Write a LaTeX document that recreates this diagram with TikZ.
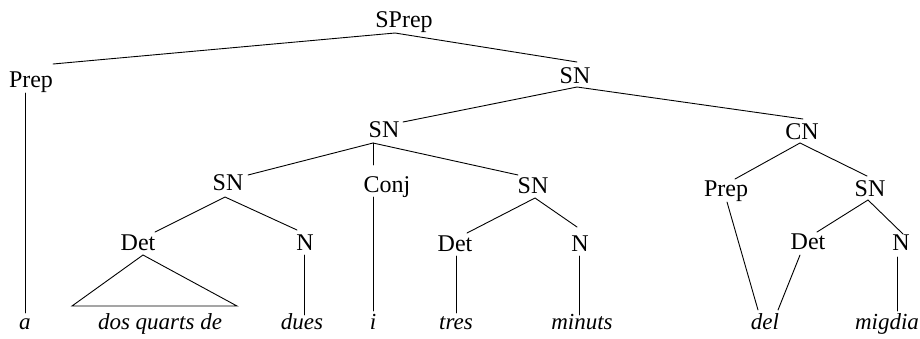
\documentclass[tikz,border=0pt]{standalone}
\usepackage{fontspec}
\setmainfont{Liberation Serif}
\begin{document}
\begin{tikzpicture}[x=1pt,y=-1pt,
  lab/.style={inner sep=0pt, anchor=base, font=\fontsize{24pt}{28pt}\selectfont},
  leaf/.style={lab, font=\fontsize{23pt}{27pt}\selectfont\itshape},
  branch/.style={line width=0.9pt, line cap=round}]
\useasboundingbox (0,0) rectangle (920,338);

% category labels
\node[lab] (sprep) at (404,27)  {SPrep};
\node[lab] (prepA) at (31,87)   {Prep};
\node[lab] (sn1)   at (575,83)  {SN};
\node[lab] (sn2)   at (384,137) {SN};
\node[lab] (cn)    at (802,139) {CN};
\node[lab] (snA)   at (228,190) {SN};
\node[lab] (conj)  at (387,192) {Conj};
\node[lab] (snB)   at (533,193) {SN};
\node[lab] (prepB) at (726,196) {Prep};
\node[lab] (snC)   at (870,196) {SN};
\node[lab] (detA)  at (138,250) {Det};
\node[lab] (nA)    at (305,250) {N};
\node[lab] (detB)  at (455,251) {Det};
\node[lab] (nB)    at (580,251) {N};
\node[lab] (detC)  at (808,249) {Det};
\node[lab] (nC)    at (901,250) {N};

% words
\node[leaf] (wa)      at (25,329)  {a};
\node[leaf] (wdos)    at (160,329) {dos quarts de};
\node[leaf] (wdues)   at (302,329) {dues};
\node[leaf] (wi)      at (373,329) {i};
\node[leaf] (wtres)   at (456,329) {tres};
\node[leaf] (wminuts) at (582,329) {minuts};
\node[leaf] (wdel)    at (765,329) {del};
\node[leaf] (wmigdia) at (887,329) {migdia};

% branches
\draw[branch] ([shift={(22,-23)}]prepA.base) -- ([shift={(-9,6)}]sprep.base) -- ([shift={(2,-21)}]sn1.base);
\draw[branch] ([shift={(-6,6)}]prepA.base) -- ([shift={(0,-16)}]wa.base);

\draw[branch] ([shift={(19,-15)}]sn2.base) -- ([shift={(2,4)}]sn1.base) -- ([shift={(1,-20)}]cn.base);

\draw[branch] ([shift={(20,-15)}]snA.base) -- ([shift={(-11,6)}]sn2.base) -- ([shift={(-15,-18)}]snB.base);
\draw[branch] ([shift={(-11,6)}]sn2.base) -- ([shift={(-14,-27)}]conj.base);
\draw[branch] ([shift={(-14,5)}]conj.base) -- ([shift={(0,-18)}]wi.base);

\draw[branch] ([shift={(17,-18)}]detA.base) -- ([shift={(-3,7)}]snA.base) -- ([shift={(-8,-20)}]nA.base);
\draw[branch] ([shift={(-88,-23)}]wdos.base) -- ([shift={(5,5)}]detA.base) -- ([shift={(77,-23)}]wdos.base) -- cycle;
\draw[branch] ([shift={(-1,5)}]nA.base) -- ([shift={(2,-14)}]wdues.base);

\draw[branch] ([shift={(12,-18)}]detB.base) -- ([shift={(2,5)}]snB.base) -- ([shift={(-3,-24)}]nB.base);
\draw[branch] ([shift={(1,5)}]detB.base) -- ([shift={(0,-16)}]wtres.base);
\draw[branch] ([shift={(-1,5)}]nB.base) -- ([shift={(-3,-14)}]wminuts.base);

\draw[branch] ([shift={(9,-17)}]prepB.base) -- ([shift={(-2,4)}]cn.base) -- ([shift={(-3,-20)}]snC.base);
\draw[branch] ([shift={(1,6)}]prepB.base) -- ([shift={(-7,-19)}]wdel.base);
\draw[branch] ([shift={(9,-17)}]detC.base) -- ([shift={(-2,4)}]snC.base) -- ([shift={(2,-16)}]nC.base);
\draw[branch] ([shift={(-8,6)}]detC.base) -- ([shift={(13,-19)}]wdel.base);
\draw[branch] ([shift={(-4,7)}]nC.base) -- ([shift={(10,-18)}]wmigdia.base);
\end{tikzpicture}
\end{document}
